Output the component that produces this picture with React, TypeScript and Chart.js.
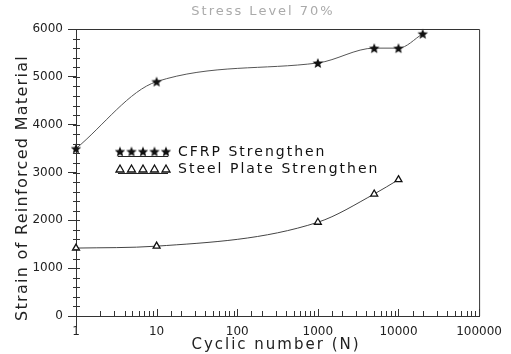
import React, { useEffect, useRef } from "react";
import { Chart, registerables } from "chart.js";

Chart.register(...registerables);

const titleText = "Stress Level 70%";
const xTitle = "Cyclic number (N)";
const yTitle = "Strain of Reinforced Material";

const cfrpLabel = "CFRP Strengthen";
const cfrpCycles = [1, 10, 1000, 5000, 10000, 20000];
const cfrpStrain = [3500, 4900, 5290, 5600, 5600, 5900];

const steelLabel = "Steel Plate Strengthen";
const steelCycles = [1, 10, 1000, 5000, 10000];
const steelStrain = [1420, 1460, 1960, 2550, 2850];

const yMin = 0;
const yMax = 6000;
const yMajorStep = 1000;
const yMinorStep = 200;
const xMin = 1;
const xMax = 100000;

function makeStar(): HTMLCanvasElement {
  const c = document.createElement("canvas");
  c.width = 12;
  c.height = 12;
  const g = c.getContext("2d")!;
  g.fillStyle = "#111";
  g.beginPath();
  for (let i = 0; i < 10; i++) {
    const r = i % 2 === 0 ? 5.5 : 2.4;
    const a = -Math.PI / 2 + (i * Math.PI) / 5;
    const px = 6 + r * Math.cos(a);
    const py = 6.5 + r * Math.sin(a);
    if (i === 0) g.moveTo(px, py);
    else g.lineTo(px, py);
  }
  g.closePath();
  g.fill();
  return c;
}

function drawTriangle(ctx: CanvasRenderingContext2D, x: number, y: number) {
  ctx.save();
  ctx.beginPath();
  ctx.moveTo(x, y - 4);
  ctx.lineTo(x + 4, y + 3);
  ctx.lineTo(x - 4, y + 3);
  ctx.closePath();
  ctx.fillStyle = "#fff";
  ctx.fill();
  ctx.strokeStyle = "#111";
  ctx.lineWidth = 1.3;
  ctx.stroke();
  ctx.restore();
}

const isDecade = (v: number) => {
  const l = Math.log10(v);
  return Math.abs(l - Math.round(l)) < 1e-9;
};

export default function App() {
  const ref = useRef<HTMLCanvasElement | null>(null);

  useEffect(() => {
    document.body.style.margin = "0";
    const star = makeStar();

    const framePlugin = {
      id: "frame",
      afterDraw(chart: any) {
        const ctx: CanvasRenderingContext2D = chart.ctx;
        const { left, right, top, bottom } = chart.chartArea;
        const xs = chart.scales.x;
        const ys = chart.scales.y;
        ctx.save();
        ctx.strokeStyle = "#333";
        ctx.lineWidth = 1;
        ctx.beginPath();
        ctx.moveTo(left, top + 0.5);
        ctx.lineTo(right + 0.5, top + 0.5);
        ctx.lineTo(right + 0.5, bottom);
        ctx.stroke();
        for (let v = yMin; v <= yMax; v += yMinorStep) {
          const py = Math.round(ys.getPixelForValue(v)) + 0.5;
          ctx.beginPath();
          ctx.moveTo(left - 3, py);
          ctx.lineTo(left + 4, py);
          ctx.stroke();
        }
        for (const t of xs.ticks) {
          const px = Math.round(xs.getPixelForValue(t.value)) + 0.5;
          const len = isDecade(t.value) ? 7 : 5;
          ctx.beginPath();
          ctx.moveTo(px, bottom);
          ctx.lineTo(px, bottom - len);
          ctx.stroke();
        }
        ctx.beginPath();
        ctx.moveTo(left + 0.5, bottom);
        ctx.lineTo(left + 0.5, bottom + 12);
        ctx.stroke();
        ctx.restore();

        ctx.save();
        ctx.textBaseline = "middle";
        ctx.textAlign = "center";
        (ctx as any).letterSpacing = "2px";
        ctx.fillStyle = "#aaa";
        ctx.font = "13px 'DejaVu Sans'";
        ctx.fillText(titleText, 263, 12);

        ctx.fillStyle = "#222";
        ctx.font = "15px 'DejaVu Sans'";
        ctx.fillText(xTitle, 276, 345);

        (ctx as any).letterSpacing = "1.3px";
        ctx.font = "16px 'DejaVu Sans'";
        ctx.save();
        ctx.translate(23, 188);
        ctx.rotate(-Math.PI / 2);
        ctx.fillText(yTitle, 0, 0);
        ctx.restore();

        (ctx as any).letterSpacing = "2px";
        ctx.font = "14px 'DejaVu Sans'";
        ctx.textAlign = "left";
        const rows = [
          { label: chart.data.datasets[0].label, y: 152, kind: "star" },
          { label: chart.data.datasets[1].label, y: 169, kind: "tri" },
        ];
        for (const r of rows) {
          for (let i = 0; i < 5; i++) {
            const mx = 120 + i * 11.5;
            if (r.kind === "star") ctx.drawImage(star, mx - 6, r.y - 6.5);
            else drawTriangle(ctx, mx, r.y);
          }
          ctx.strokeStyle = "#222";
          ctx.lineWidth = 1;
          ctx.beginPath();
          ctx.moveTo(118, r.y + 4.5);
          ctx.lineTo(168, r.y + 4.5);
          ctx.stroke();
          ctx.fillStyle = "#111";
          ctx.fillText(r.label, 178, r.y);
        }
        ctx.restore();
      },
    };

    const chart = new Chart(ref.current!, {
      type: "line",
      data: {
        datasets: [
          {
            label: cfrpLabel,
            data: cfrpCycles.map((x, i) => ({ x, y: cfrpStrain[i] })),
            borderColor: "#555",
            borderWidth: 1,
            cubicInterpolationMode: "monotone",
            pointStyle: star as any,
            pointRadius: 5,
            fill: false,
            clip: false,
          },
          {
            label: steelLabel,
            data: steelCycles.map((x, i) => ({ x, y: steelStrain[i] })),
            borderColor: "#444",
            borderWidth: 1,
            cubicInterpolationMode: "monotone",
            pointStyle: "triangle",
            pointRadius: 4,
            pointBackgroundColor: "#fff",
            pointBorderColor: "#111",
            pointBorderWidth: 1.3,
            fill: false,
            clip: false,
          },
        ],
      },
      options: {
        responsive: false,
        animation: false,
        events: [],
        layout: { padding: { top: 29, right: 31, left: 0, bottom: 0 } },
        plugins: {
          legend: { display: false },
          tooltip: { enabled: false },
          title: { display: false },
        },
        scales: {
          x: {
            type: "logarithmic",
            min: xMin,
            max: xMax,
            afterFit: (s: any) => {
              s.height = 38;
            },
            grid: { drawOnChartArea: false, drawTicks: false },
            border: { display: true, color: "#333", width: 1 },
            ticks: {
              autoSkip: false,
              maxRotation: 0,
              padding: 9,
              color: "#222",
              font: { family: "'DejaVu Sans'", size: 12 },
              callback: (v: any) => (isDecade(Number(v)) ? String(Number(v)) : ""),
            },
          },
          y: {
            type: "linear",
            min: yMin,
            max: yMax,
            afterFit: (s: any) => {
              s.width = 76;
            },
            grid: {
              drawOnChartArea: false,
              drawTicks: true,
              tickLength: 8,
              color: (c: any) => (c.tick && c.tick.value % yMajorStep === 0 ? "#333" : "transparent"),
            },
            border: { display: true, color: "#333", width: 1 },
            ticks: {
              stepSize: yMinorStep,
              autoSkip: false,
              padding: 5,
              color: "#222",
              font: { family: "'DejaVu Sans'", size: 12 },
              callback: (v: any) => (Number(v) % yMajorStep === 0 ? String(v) : ""),
            },
          },
        },
      },
      plugins: [framePlugin],
    } as any);

    return () => chart.destroy();
  }, []);

  return (
    <div style={{ position: "absolute", left: 0, top: 0, width: 511, height: 354, background: "#fff" }}>
      <canvas ref={ref} width={511} height={354} style={{ display: "block" }} />
    </div>
  );
}
